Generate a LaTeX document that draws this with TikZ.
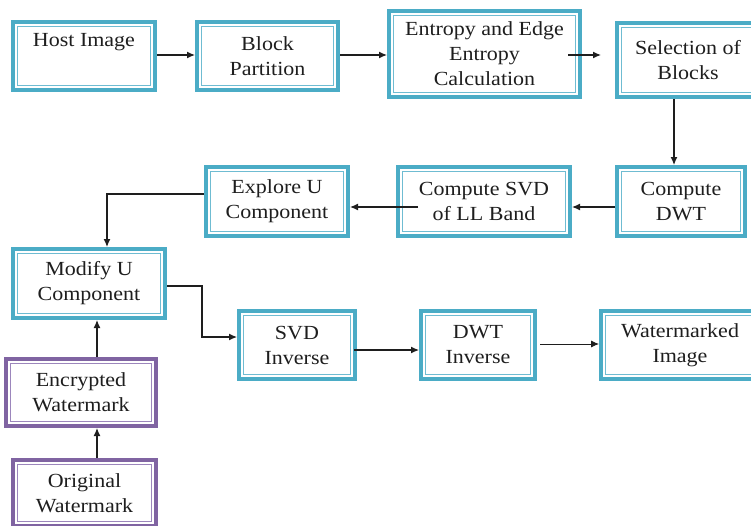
\documentclass[tikz,border=0pt]{standalone}
\usepackage{fontspec}
\setmainfont{Liberation Serif}[FakeStretch=1.1]
\usetikzlibrary{arrows.meta,calc}
\definecolor{cyanb}{HTML}{4BACC6}
\definecolor{cyani}{HTML}{6FBCD2}
\definecolor{purpb}{HTML}{8064A2}
\definecolor{purpi}{HTML}{9C86BC}
\definecolor{ink}{HTML}{1E1E1E}
\tikzset{
  boxbase/.style={rectangle, line width=4pt, fill=white, inner sep=0pt, align=center,
    text=ink, font=\fontsize{20}{25}\selectfont},
  cbox/.style={boxbase, draw=cyanb,
    path picture={\draw[cyani, line width=1pt]
      ([shift={(4.5pt,4.5pt)}]path picture bounding box.south west) rectangle
      ([shift={(-4.5pt,-4.5pt)}]path picture bounding box.north east);}},
  pbox/.style={boxbase, draw=purpb,
    path picture={\draw[purpi, line width=1pt]
      ([shift={(4.5pt,4.5pt)}]path picture bounding box.south west) rectangle
      ([shift={(-4.5pt,-4.5pt)}]path picture bounding box.north east);}},
  conn/.style={draw=ink, line width=1.2pt, -{Latex[length=8pt,width=7pt]}},
  thinconn/.style={draw=ink, line width=0.8pt, -{Latex[length=8pt,width=7pt]}}
}
\begin{document}
\begin{tikzpicture}[x=1pt,y=-1pt]
\useasboundingbox (0,0) rectangle (751,525);
\clip (0,0) rectangle (751,525);
\node[cbox, minimum width=142pt, minimum height=68pt] (host) at (84,56) {Host Image\\\strut};
\node[cbox, minimum width=141pt, minimum height=68pt] (block) at (267.5,56) {Block\\Partition};
\node[cbox, minimum width=191pt, minimum height=86pt] (entropy) at (484.5,54) {Entropy and Edge\\Entropy\\Calculation};
\node[cbox, minimum width=142pt, minimum height=74pt] (select) at (688,60) {Selection of\\Blocks};
\node[cbox, minimum width=128pt, minimum height=69pt] (dwt) at (681,201.5) {Compute\\DWT};
\node[cbox, minimum width=172pt, minimum height=69pt] (svd) at (484,201.5) {Compute SVD\\of LL Band};
\node[cbox, minimum width=142pt, minimum height=69pt] (explore) at (277,201.5) {Explore U\\Component};
\node[cbox, minimum width=152pt, minimum height=69pt] (modify) at (89,283.5) {Modify U\\Component};
\node[pbox, minimum width=150pt, minimum height=67pt] (encrypted) at (81,392.5) {Encrypted\\Watermark};
\node[pbox, minimum width=143pt, minimum height=66pt] (original) at (84.5,493) {Original\\Watermark};
\node[cbox, minimum width=116pt, minimum height=68pt] (svdinv) at (297,345) {SVD\\Inverse};
\node[cbox, minimum width=114pt, minimum height=68pt] (dwtinv) at (478,345) {DWT\\Inverse};
\node[cbox, minimum width=158pt, minimum height=68pt] (wm) at (680,345) {Watermarked\\Image};
\coordinate (bend) at (202,337);

\draw[conn] ([yshift=1pt]host.east) -- ([yshift=1pt]host.east -| block.west);
\draw[conn] ([yshift=1pt]block.east) -- ([yshift=1pt]block.east -| entropy.west);
\draw[conn] ([xshift=-14pt,yshift=-1pt]entropy.east) -- ([xshift=-14pt,yshift=-1pt]entropy.east -| select.west);
\draw[conn] ([xshift=-7pt]dwt.north |- select.south) -- ([xshift=-7pt]dwt.north);
\draw[conn] ([yshift=-5.5pt]dwt.west) -- ([yshift=-5.5pt]dwt.west -| svd.east);
\draw[conn] ([xshift=22pt,yshift=-5.5pt]svd.west) -- ([yshift=-5.5pt]svd.west -| explore.east);
\draw[conn] ([yshift=7.5pt]explore.west) -| ([xshift=18pt]modify.north);
\draw[conn] ([xshift=16pt]encrypted.north) -- ([xshift=16pt]encrypted.north |- modify.south);
\draw[conn] ([xshift=12.5pt]original.north) -- ([xshift=12.5pt]original.north |- encrypted.south);
\draw[conn] ([yshift=-2.5pt]modify.east) -| (bend) -- (bend -| svdinv.west);
\draw[conn] ([xshift=-3pt,yshift=-5pt]svdinv.east) -- ([yshift=-5pt]svdinv.east -| dwtinv.west);
\draw[thinconn] ([xshift=3pt,yshift=1pt]dwtinv.east) -- ([yshift=1pt]dwtinv.east -| wm.west);
\end{tikzpicture}
\end{document}
